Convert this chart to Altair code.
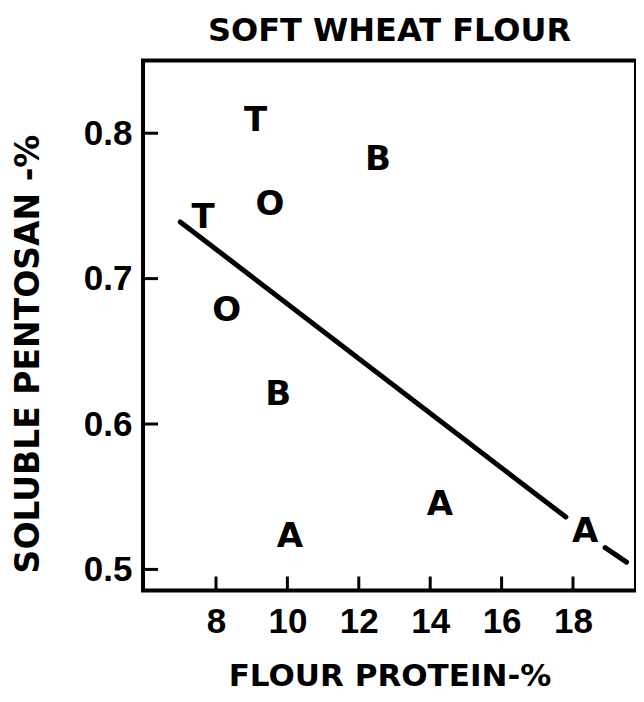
import altair as alt
import pandas as pd

# Letter-coded flour samples
labels = ["T", "B", "O", "T", "O", "B", "A", "A", "A"]
protein = [9.11, 12.54, 9.51, 7.64, 8.30, 9.74, 10.07, 14.27, 18.34]
pentosan = [0.810, 0.783, 0.752, 0.743, 0.679, 0.621, 0.524, 0.546, 0.527]

# Fitted line (broken where it passes behind the last "A")
fit_x = [7.0, 17.8, 18.9, 19.5]
fit_y = [0.739, 0.536, 0.515, 0.505]
fit_seg = ["main", "main", "tail", "tail"]

x_ticks = [8, 10, 12, 14, 16, 18]
y_ticks = [0.5, 0.6, 0.7, 0.8]

W, H = 493, 530
x_dom = [5.955, 19.765]
y_dom = [0.4855, 0.850]

pts = pd.DataFrame({"label": labels, "protein": protein, "pentosan": pentosan})
fit = pd.DataFrame({"protein": fit_x, "pentosan": fit_y, "seg": fit_seg})
xt = pd.DataFrame({"protein": x_ticks})
yt = pd.DataFrame({"pentosan": y_ticks})

xscale = alt.Scale(domain=x_dom, nice=False, zero=False)
yscale = alt.Scale(domain=y_dom, nice=False, zero=False)

x_axis = alt.Axis(
    values=x_ticks, ticks=False, domain=False, grid=False,
    labelFont="Liberation Sans", labelFontWeight="bold", labelFontSize=35,
    labelColor="black", labelPadding=14, labelFlush=False, labelOverlap=False,
    title="FLOUR PROTEIN-%", titleFont="DejaVu Sans", titleFontWeight="bold",
    titleFontSize=31, titleColor="black", titleY=86, titleBaseline="middle",
)
y_axis = alt.Axis(
    values=y_ticks, format=".1f", ticks=False, domain=False, grid=False,
    labelFont="Liberation Sans", labelFontWeight="bold", labelFontSize=35,
    labelColor="black", labelPadding=11, labelFlush=False, labelOverlap=False,
    title="SOLUBLE PENTOSAN -%", titleFont="DejaVu Sans", titleFontWeight="bold",
    titleFontSize=33, titleColor="black", titleX=-115, titleY=293,
    titleAlign="center", titleBaseline="middle", titleAngle=270,
)

X = alt.X("protein:Q", scale=xscale, axis=x_axis)
Y = alt.Y("pentosan:Q", scale=yscale, axis=y_axis)

letters = alt.Chart(pts).mark_text(
    font="DejaVu Sans", fontWeight="bold", fontSize=34, baseline="middle",
    dy=2, color="black",
).encode(x=X, y=Y, text="label:N")

line = alt.Chart(fit).mark_line(
    color="black", strokeWidth=5, strokeCap="round"
).encode(x=X, y=Y, detail="seg:N")

xtick = alt.Chart(xt).mark_rule(color="black", strokeWidth=3).encode(
    x=X, y=alt.value(H), y2=alt.value(H - 14)
)
ytick = alt.Chart(yt).mark_rule(color="black", strokeWidth=3).encode(
    y=Y, x=alt.value(0), x2=alt.value(15)
)

chart = alt.layer(xtick, ytick, line, letters).properties(
    width=W, height=H,
    title=alt.Title("SOFT WHEAT FLOUR", font="DejaVu Sans", fontSize=32,
                    fontWeight="bold", color="black", anchor="middle", offset=13),
    autosize=alt.AutoSizeParams(type="none"),
    padding={"left": 135, "top": 52.5, "right": 0, "bottom": 103},
).configure(
    background="white",
    view=alt.ViewConfig(stroke="black", strokeWidth=4),
)

chart.save("out.html", embed_options={"renderer": "svg", "actions": False})
